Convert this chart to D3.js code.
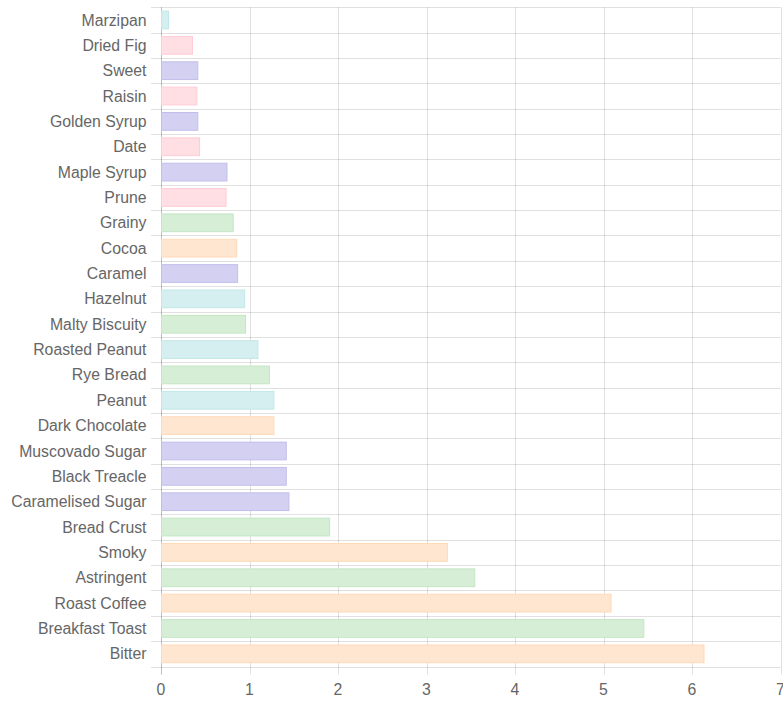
<!DOCTYPE html>
<html><head><meta charset="utf-8">
<script src="https://cdn.jsdelivr.net/npm/d3@7"></script>
<style>body{margin:0;background:#fff;} svg{display:block;}</style>
</head><body>
<svg id="c" width="783" height="704"></svg>
<script>
const categories = ["Marzipan","Dried Fig","Sweet","Raisin","Golden Syrup","Date","Maple Syrup","Prune","Grainy","Cocoa","Caramel","Hazelnut","Malty Biscuity","Roasted Peanut","Rye Bread","Peanut","Dark Chocolate","Muscovado Sugar","Black Treacle","Caramelised Sugar","Bread Crust","Smoky","Astringent","Roast Coffee","Breakfast Toast","Bitter"];
const values = [0.08,0.35,0.41,0.40,0.41,0.43,0.74,0.73,0.81,0.85,0.86,0.94,0.95,1.09,1.22,1.27,1.27,1.41,1.41,1.44,1.90,3.23,3.54,5.08,5.45,6.13];
const groups = ["nut","fruit","sugar","fruit","sugar","fruit","sugar","fruit","grain","roast","sugar","nut","grain","nut","grain","nut","roast","sugar","sugar","sugar","grain","roast","grain","roast","grain","roast"];
const xTicks = [0,1,2,3,4,5,6,7];
const groupNames = ["fruit","sugar","grain","roast","nut"];
const fills = ["#ffdfe4","#d3d0f2","#d6eed6","#ffe6d0","#d5eff0"];
const strokes = ["#ffccd4","#c2beeb","#c4e6c4","#ffd9b8","#c2e7e7"];

const svg = d3.select("#c");
const mLeft = 161, mRight = 780.5, mTop = 7.3, mBottom = 666.5;
const x = d3.scaleLinear().domain([0,7]).range([mLeft,mRight]);
const y = d3.scaleBand().domain(categories).range([mTop,mBottom]).paddingInner(0).paddingOuter(0);
const fill = d3.scaleOrdinal().domain(groupNames).range(fills);
const stroke = d3.scaleOrdinal().domain(groupNames).range(strokes);
const font = "'Liberation Sans', Arial, Helvetica, sans-serif";

const bounds = categories.map(c => y(c)).concat([mBottom]);
svg.append("g").selectAll("line").data(bounds).join("line")
  .attr("x1", mLeft-10).attr("x2", mRight)
  .attr("y1", d=>Math.round(d)+0.5).attr("y2", d=>Math.round(d)+0.5)
  .attr("stroke","rgba(0,0,0,0.12)");

svg.append("g").selectAll("line").data(xTicks).join("line")
  .attr("x1", d=>Math.round(x(d))+0.5).attr("x2", d=>Math.round(x(d))+0.5)
  .attr("y1", mTop).attr("y2", mBottom+8)
  .attr("stroke", d=> d===0 ? "rgba(0,0,0,0.25)" : "rgba(0,0,0,0.12)");

const bh = y.bandwidth()*0.7;
svg.append("g").selectAll("rect").data(categories).join("rect")
  .attr("x", x(0)+0.5)
  .attr("y", c => y(c) + (y.bandwidth()-bh)/2)
  .attr("width", (c,i) => x(values[i]) - x(0))
  .attr("height", bh)
  .attr("fill", (c,i)=>fill(groups[i]))
  .attr("stroke", (c,i)=>stroke(groups[i]))
  .attr("stroke-width", 1);

svg.append("g").selectAll("text").data(categories).join("text")
  .attr("x", 146.5).attr("y", c => y(c)+y.bandwidth()/2)
  .attr("dy","0.35em").attr("text-anchor","end")
  .attr("font-family", font).attr("font-size", 15.8).attr("fill","#666")
  .text(c=>c);

svg.append("g").selectAll("text").data(xTicks).join("text")
  .attr("x", d=>x(d)).attr("y", 689).attr("dy","0.35em").attr("text-anchor","middle")
  .attr("font-family", font).attr("font-size", 15.8).attr("fill","#666")
  .text(d=>d);
</script>
</body></html>
